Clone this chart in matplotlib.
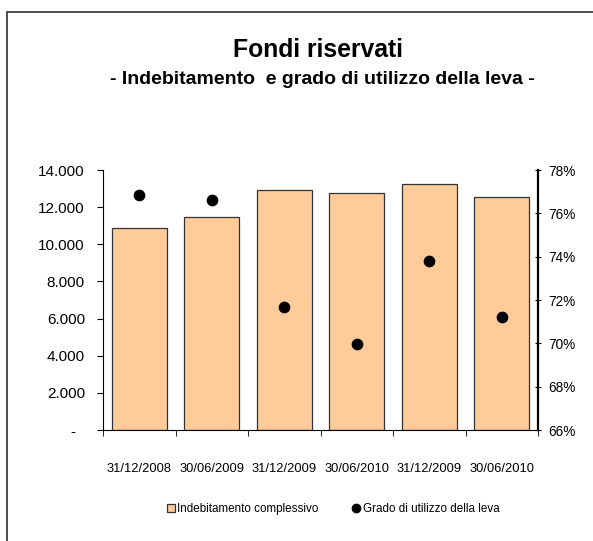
import numpy as np
import matplotlib.pyplot as plt
from matplotlib.patches import Rectangle
from matplotlib.lines import Line2D
from matplotlib.ticker import FuncFormatter

plt.rcParams['font.family'] = ['Liberation Sans', 'DejaVu Sans']

dates = ['31/12/2008', '30/06/2009', '31/12/2009', '30/06/2010', '31/12/2009', '30/06/2010']
debt = [10900, 11480, 12920, 12780, 13250, 12530]
leva = [76.85, 76.6, 71.68, 69.95, 73.82, 71.22]

fig = plt.figure(figsize=(5.93, 5.41), dpi=100)
fig.patches.append(Rectangle((7/593, -0.1), 1.2, 1 - 12/541 + 0.1, transform=fig.transFigure,
                             fill=False, edgecolor='#404040', linewidth=1.3))

ax = fig.add_axes([103/593, 111/541, 435/593, 260/541])
x = np.arange(len(dates))
ax.bar(x, debt, width=0.76, color='#FFCC99', edgecolor='#333333', linewidth=0.9)
ax.set_xlim(-0.5, len(dates) - 0.5)
ax.set_ylim(0, 14000)
ax.set_yticks(np.arange(0, 14001, 2000))
ax.yaxis.set_major_formatter(FuncFormatter(lambda v, p: '-  ' if v == 0 else f'{int(v):,}'.replace(',', '.')))
ax.set_xticks(x)
ax.set_xticklabels(dates, fontsize=9.3)
ax.set_xticks(np.arange(-0.5, len(dates), 1), minor=True)
ax.tick_params(axis='x', which='major', length=0, pad=24)
ax.tick_params(axis='x', which='minor', length=4, direction='out')
ax.tick_params(axis='y', labelsize=11, length=4, direction='out', pad=9)
for s in ['top', 'right']:
    ax.spines[s].set_visible(False)

ax2 = ax.twinx()
ax2.scatter(x, leva, s=55, color='black', zorder=5)
ax2.set_ylim(66, 78)
ax2.set_yticks(np.arange(66, 79, 2))
ax2.yaxis.set_major_formatter(FuncFormatter(lambda v, p: f'{int(v)}%'))
ax2.tick_params(axis='y', labelsize=9.8, length=4, direction='inout', pad=5.5)
ax2.spines['right'].set_linewidth(1.6)
for s in ['top', 'left', 'bottom']:
    ax2.spines[s].set_visible(False)

fig.text(318/593, 1 - 50/541, 'Fondi riservati', ha='center', va='center', fontsize=17.8, fontweight='bold')
fig.text(322/593, 1 - 79/541, '- Indebitamento  e grado di utilizzo della leva -', ha='center', va='center',
         fontsize=14, fontweight='bold')

handles = [Rectangle((0, 0), 1, 1, facecolor='#FFCC99', edgecolor='#333333', linewidth=0.9),
           Line2D([], [], marker='o', color='black', linestyle='none', markersize=6)]
fig.legend(handles, ['Indebitamento complessivo', 'Grado di utilizzo della leva'],
           loc='center', bbox_to_anchor=(333/593, 1 - 509/541), ncol=2, frameon=False,
           fontsize=8.4, handlelength=0.7, handleheight=0.7, handletextpad=0.2, columnspacing=2.9)

fig.savefig('out.png', dpi=100)
